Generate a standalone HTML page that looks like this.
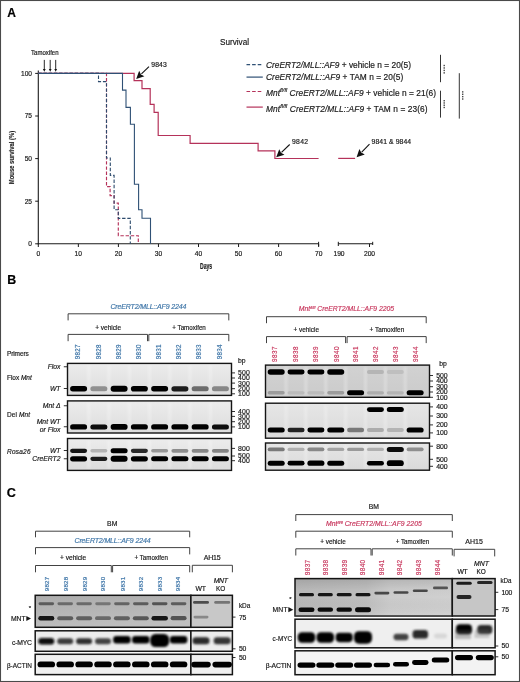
<!DOCTYPE html><html><head><meta charset="utf-8"><style>html,body{margin:0;padding:0;background:#fff;}svg{display:block;will-change:transform;}text{font-family:"Liberation Sans",sans-serif;font-variant-ligatures:none;}</style></head><body>
<svg width="520" height="682" viewBox="0 0 520 682">
<defs>
<filter id="b1" x="-30%" y="-100%" width="160%" height="300%"><feGaussianBlur stdDeviation="0.7"/></filter>
<filter id="b2" x="-30%" y="-100%" width="160%" height="300%"><feGaussianBlur stdDeviation="1.1"/></filter>
<filter id="b3" x="-30%" y="-100%" width="160%" height="300%"><feGaussianBlur stdDeviation="0.5"/></filter>
<linearGradient id="gelL" x1="0" y1="0" x2="0" y2="1"><stop offset="0" stop-color="#ececec"/><stop offset="1" stop-color="#dcdcdc"/></linearGradient>
<linearGradient id="gelR1" x1="0" y1="0" x2="0" y2="1"><stop offset="0" stop-color="#d2d2d2"/><stop offset="1" stop-color="#cbcbcb"/></linearGradient>
<linearGradient id="gelR" x1="0" y1="0" x2="0" y2="1"><stop offset="0" stop-color="#e6e6e6"/><stop offset="1" stop-color="#dadada"/></linearGradient>
<marker id="ah" viewBox="0 0 10 10" refX="9" refY="5" markerWidth="4" markerHeight="4" orient="auto"><path d="M0,0 L10,5 L0,10 z" fill="#111"/></marker>
</defs>
<rect x="0" y="0" width="520" height="682" fill="#fff"/>
<text x="7.2" y="17.3" font-size="12" fill="#000" stroke="#000" stroke-width="0.18" font-weight="bold">A</text>
<text x="220" y="45.3" font-size="8.2" fill="#1a1a1a" stroke="#1a1a1a" stroke-width="0.18" textLength="29" lengthAdjust="spacing">Survival</text>
<line x1="38.3" y1="70.5" x2="38.3" y2="244.3" stroke="#1a1a1a" stroke-width="1.1" />
<line x1="37.8" y1="243.8" x2="318.6" y2="243.8" stroke="#1a1a1a" stroke-width="1.1" />
<line x1="338.3" y1="243.8" x2="372.7" y2="243.8" stroke="#1a1a1a" stroke-width="1.1" />
<line x1="35.2" y1="243.8" x2="38.3" y2="243.8" stroke="#1a1a1a" stroke-width="1" />
<text x="32" y="246.1" font-size="6.6" fill="#1a1a1a" stroke="#1a1a1a" stroke-width="0.18" text-anchor="end">0</text>
<line x1="35.2" y1="201.20000000000002" x2="38.3" y2="201.20000000000002" stroke="#1a1a1a" stroke-width="1" />
<text x="32" y="203.5" font-size="6.6" fill="#1a1a1a" stroke="#1a1a1a" stroke-width="0.18" text-anchor="end">25</text>
<line x1="35.2" y1="158.60000000000002" x2="38.3" y2="158.60000000000002" stroke="#1a1a1a" stroke-width="1" />
<text x="32" y="160.9" font-size="6.6" fill="#1a1a1a" stroke="#1a1a1a" stroke-width="0.18" text-anchor="end">50</text>
<line x1="35.2" y1="116.00000000000001" x2="38.3" y2="116.00000000000001" stroke="#1a1a1a" stroke-width="1" />
<text x="32" y="118.3" font-size="6.6" fill="#1a1a1a" stroke="#1a1a1a" stroke-width="0.18" text-anchor="end">75</text>
<line x1="35.2" y1="73.4" x2="38.3" y2="73.4" stroke="#1a1a1a" stroke-width="1" />
<text x="32" y="75.7" font-size="6.6" fill="#1a1a1a" stroke="#1a1a1a" stroke-width="0.18" text-anchor="end">100</text>
<line x1="38.3" y1="243.8" x2="38.3" y2="247" stroke="#1a1a1a" stroke-width="1" />
<text x="38.3" y="256.3" font-size="6.7" fill="#1a1a1a" stroke="#1a1a1a" stroke-width="0.18" text-anchor="middle">0</text>
<line x1="78.35" y1="243.8" x2="78.35" y2="247" stroke="#1a1a1a" stroke-width="1" />
<text x="78.35" y="256.3" font-size="6.7" fill="#1a1a1a" stroke="#1a1a1a" stroke-width="0.18" text-anchor="middle">10</text>
<line x1="118.39999999999999" y1="243.8" x2="118.39999999999999" y2="247" stroke="#1a1a1a" stroke-width="1" />
<text x="118.4" y="256.3" font-size="6.7" fill="#1a1a1a" stroke="#1a1a1a" stroke-width="0.18" text-anchor="middle">20</text>
<line x1="158.45" y1="243.8" x2="158.45" y2="247" stroke="#1a1a1a" stroke-width="1" />
<text x="158.45" y="256.3" font-size="6.7" fill="#1a1a1a" stroke="#1a1a1a" stroke-width="0.18" text-anchor="middle">30</text>
<line x1="198.5" y1="243.8" x2="198.5" y2="247" stroke="#1a1a1a" stroke-width="1" />
<text x="198.5" y="256.3" font-size="6.7" fill="#1a1a1a" stroke="#1a1a1a" stroke-width="0.18" text-anchor="middle">40</text>
<line x1="238.55" y1="243.8" x2="238.55" y2="247" stroke="#1a1a1a" stroke-width="1" />
<text x="238.55" y="256.3" font-size="6.7" fill="#1a1a1a" stroke="#1a1a1a" stroke-width="0.18" text-anchor="middle">50</text>
<line x1="278.59999999999997" y1="243.8" x2="278.59999999999997" y2="247" stroke="#1a1a1a" stroke-width="1" />
<text x="278.6" y="256.3" font-size="6.7" fill="#1a1a1a" stroke="#1a1a1a" stroke-width="0.18" text-anchor="middle">60</text>
<line x1="318.65" y1="243.8" x2="318.65" y2="247" stroke="#1a1a1a" stroke-width="1" />
<text x="318.65" y="256.3" font-size="6.7" fill="#1a1a1a" stroke="#1a1a1a" stroke-width="0.18" text-anchor="middle">70</text>
<line x1="318.6" y1="241.8" x2="318.6" y2="246" stroke="#1a1a1a" stroke-width="1" />
<line x1="338.3" y1="241.8" x2="338.3" y2="246" stroke="#1a1a1a" stroke-width="1" />
<line x1="369.5" y1="243.8" x2="369.5" y2="247" stroke="#1a1a1a" stroke-width="1" />
<line x1="372.7" y1="241.8" x2="372.7" y2="245" stroke="#1a1a1a" stroke-width="1" />
<text x="339" y="256.3" font-size="6.7" fill="#1a1a1a" stroke="#1a1a1a" stroke-width="0.18" text-anchor="middle">190</text>
<text x="369.5" y="256.3" font-size="6.7" fill="#1a1a1a" stroke="#1a1a1a" stroke-width="0.18" text-anchor="middle">200</text>
<text x="200" y="268.5" font-size="8.4" fill="#1a1a1a" stroke="#1a1a1a" stroke-width="0.18" font-weight="bold" textLength="12.2" lengthAdjust="spacingAndGlyphs">Days</text>
<text transform="translate(14.2,157.5) rotate(-90)" x="0" y="0" text-anchor="middle" font-size="7.7" font-weight="bold" textLength="53.4" lengthAdjust="spacingAndGlyphs" fill="#1a1a1a" stroke="#1a1a1a" stroke-width="0.12">Mouse survival (%)</text>
<path d="M38.3,73.4 H134.1 V80.7 H142 V88.6 H150.2 V104.4 H154.1 V112.3 H158.2 V135.5 H190.1 V143.4 H258.1 V150.9 H274.9 V158.5 H318.6" fill="none" stroke="#b5325a" stroke-width="1.2"/>
<path d="M338.2,158.4 H355.1" fill="none" stroke="#b5325a" stroke-width="1.2"/>
<path d="M38.3,73.4 H106.5 V186.6 H110.1 V195.6 H114.1 V203.1 H118.3 V235.7 H138.3 V243.8" fill="none" stroke="#b5325a" stroke-width="1.15" stroke-dasharray="3.4 1.8"/>
<path d="M38.3,73.4 H98.5 V81.6 H106.5 V158 H110.3 V175.4 H114.1 V209.7 H118.3 V218.4 H130.3 V243.8" fill="none" stroke="#2c4a6c" stroke-width="1.1" stroke-dasharray="3.4 1.8"/>
<path d="M38.3,73.4 H122.5 V90.1 H126 V107.4 H130.4 V124.3 H134.4 V184.2 H138.6 V209.8 H142 V218.2 H150.5 V243.8" fill="none" stroke="#2f5075" stroke-width="1.1"/>
<text x="31.1" y="55.3" font-size="6.4" fill="#1a1a1a" stroke="#1a1a1a" stroke-width="0.18" textLength="27.4" lengthAdjust="spacingAndGlyphs">Tamoxifen</text>
<line x1="44.3" y1="59.9" x2="44.3" y2="69.5" stroke="#111" stroke-width="0.9" />
<path d="M42.9,69 L45.699999999999996,69 L44.3,71.7 z" fill="#111"/>
<line x1="50.2" y1="59.9" x2="50.2" y2="69.5" stroke="#111" stroke-width="0.9" />
<path d="M48.800000000000004,69 L51.6,69 L50.2,71.7 z" fill="#111"/>
<line x1="55.7" y1="59.9" x2="55.7" y2="69.5" stroke="#111" stroke-width="0.9" />
<path d="M54.300000000000004,69 L57.1,69 L55.7,71.7 z" fill="#111"/>
<line x1="149" y1="66.6" x2="141.44" y2="73.92" stroke="#111" stroke-width="1.1"/>
<path d="M136.20,79.00 L139.16,70.84 L140.94,74.41 L144.45,76.30 z" fill="#111"/>
<text x="151.3" y="66.9" font-size="6.8" fill="#1a1a1a" stroke="#1a1a1a" stroke-width="0.18" textLength="15.4" lengthAdjust="spacing">9843</text>
<line x1="289.7" y1="144.5" x2="281.50" y2="152.28" stroke="#111" stroke-width="1.1"/>
<path d="M276.20,157.30 L279.25,149.18 L280.99,152.76 L284.47,154.69 z" fill="#111"/>
<text x="292" y="143.8" font-size="6.8" fill="#1a1a1a" stroke="#1a1a1a" stroke-width="0.18" textLength="16.1" lengthAdjust="spacing">9842</text>
<line x1="369.5" y1="144.2" x2="361.72" y2="152.10" stroke="#111" stroke-width="1.1"/>
<path d="M356.60,157.30 L359.37,149.08 L361.23,152.60 L364.78,154.41 z" fill="#111"/>
<text x="371.5" y="144.1" font-size="6.8" fill="#1a1a1a" stroke="#1a1a1a" stroke-width="0.18" textLength="39.6" lengthAdjust="spacing">9841 &amp; 9844</text>
<path d="M246.5,64.65 H262.8" stroke="#2f5075" stroke-width="1.2" stroke-dasharray="3.6 2"/>
<path d="M246.5,77.1 H262.8" stroke="#2f5075" stroke-width="1.2"/>
<path d="M246.5,91.5 H262.8" stroke="#b5325a" stroke-width="1.2" stroke-dasharray="3.6 2"/>
<path d="M246.5,107.1 H262.8" stroke="#b5325a" stroke-width="1.2"/>
<text x="266" y="67.6" font-size="8.35" fill="#1a1a1a" stroke="#1a1a1a" stroke-width="0.18" textLength="145" lengthAdjust="spacing"><tspan font-style="italic">CreERT2/MLL::AF9</tspan> + vehicle n = 20(5)</text>
<text x="266" y="80.0" font-size="8.35" fill="#1a1a1a" stroke="#1a1a1a" stroke-width="0.18" textLength="137.3" lengthAdjust="spacing"><tspan font-style="italic">CreERT2/MLL::AF9</tspan> + TAM n = 20(5)</text>
<text x="266" y="95.8" font-size="8.35" fill="#1a1a1a" stroke="#1a1a1a" stroke-width="0.18" textLength="170" lengthAdjust="spacing"><tspan font-style="italic">Mnt</tspan><tspan font-size="5.4" dy="-3.5" font-style="italic">fl/fl</tspan><tspan dy="3.5" font-style="italic"> CreERT2/MLL::AF9</tspan> + vehicle n = 21(6)</text>
<text x="266" y="111.7" font-size="8.35" fill="#1a1a1a" stroke="#1a1a1a" stroke-width="0.18" textLength="161.5" lengthAdjust="spacing"><tspan font-style="italic">Mnt</tspan><tspan font-size="5.4" dy="-3.5" font-style="italic">fl/fl</tspan><tspan dy="3.5" font-style="italic"> CreERT2/MLL::AF9</tspan> + TAM n = 23(6)</text>
<line x1="440.5" y1="54.8" x2="440.5" y2="82.2" stroke="#2a2a2a" stroke-width="0.95" />
<rect x="443.50" y="64.82" width="1.4" height="1.4" fill="#444"/>
<rect x="443.50" y="67.27" width="1.4" height="1.4" fill="#444"/>
<rect x="443.50" y="69.72" width="1.4" height="1.4" fill="#444"/>
<rect x="443.50" y="72.17" width="1.4" height="1.4" fill="#444"/>
<line x1="440.5" y1="90.7" x2="440.5" y2="117.6" stroke="#2a2a2a" stroke-width="0.95" />
<rect x="443.50" y="100.02" width="1.4" height="1.4" fill="#444"/>
<rect x="443.50" y="102.27" width="1.4" height="1.4" fill="#444"/>
<rect x="443.50" y="104.52" width="1.4" height="1.4" fill="#444"/>
<rect x="443.50" y="106.77" width="1.4" height="1.4" fill="#444"/>
<line x1="459.3" y1="73.2" x2="459.3" y2="118.6" stroke="#2a2a2a" stroke-width="0.95" />
<rect x="462.00" y="91.19" width="1.4" height="1.4" fill="#444"/>
<rect x="462.00" y="93.56" width="1.4" height="1.4" fill="#444"/>
<rect x="462.00" y="95.94" width="1.4" height="1.4" fill="#444"/>
<rect x="462.00" y="98.31" width="1.4" height="1.4" fill="#444"/>
<text x="7.2" y="284.3" font-size="12.4" fill="#000" stroke="#000" stroke-width="0.18" font-weight="bold">B</text>
<text x="110.4" y="309.4" font-size="7.0" fill="#3f76a8" stroke="#3f76a8" stroke-width="0.18" font-style="italic" textLength="76.1" lengthAdjust="spacing">CreERT2/MLL::AF9 2244</text>
<path d="M68.1,320.4 V313.8 H228.8 V320.4" fill="none" stroke="#383838" stroke-width="0.95"/>
<text x="95.2" y="329.6" font-size="7.0" fill="#1a1a1a" stroke="#1a1a1a" stroke-width="0.18" textLength="26" lengthAdjust="spacingAndGlyphs">+ vehicle</text>
<text x="172.3" y="329.6" font-size="7.0" fill="#1a1a1a" stroke="#1a1a1a" stroke-width="0.18" textLength="33.5" lengthAdjust="spacingAndGlyphs">+ Tamoxifen</text>
<path d="M68.1,341.2 V334.4 H147.5 V341.2" fill="none" stroke="#383838" stroke-width="0.95"/>
<path d="M148.8,341.2 V334.4 H228.8 V341.2" fill="none" stroke="#383838" stroke-width="0.95"/>
<text transform="translate(78.1,351.9) rotate(-90)" x="0" y="2.27" text-anchor="middle" font-size="6.3" fill="#3f76a8" stroke="#3f76a8" stroke-width="0.18" textLength="14.6" lengthAdjust="spacing">9827</text>
<text transform="translate(98.26,351.9) rotate(-90)" x="0" y="2.27" text-anchor="middle" font-size="6.3" fill="#3f76a8" stroke="#3f76a8" stroke-width="0.18" textLength="14.6" lengthAdjust="spacing">9828</text>
<text transform="translate(118.42,351.9) rotate(-90)" x="0" y="2.27" text-anchor="middle" font-size="6.3" fill="#3f76a8" stroke="#3f76a8" stroke-width="0.18" textLength="14.6" lengthAdjust="spacing">9829</text>
<text transform="translate(138.58,351.9) rotate(-90)" x="0" y="2.27" text-anchor="middle" font-size="6.3" fill="#3f76a8" stroke="#3f76a8" stroke-width="0.18" textLength="14.6" lengthAdjust="spacing">9830</text>
<text transform="translate(158.74,351.9) rotate(-90)" x="0" y="2.27" text-anchor="middle" font-size="6.3" fill="#3f76a8" stroke="#3f76a8" stroke-width="0.18" textLength="14.6" lengthAdjust="spacing">9831</text>
<text transform="translate(178.9,351.9) rotate(-90)" x="0" y="2.27" text-anchor="middle" font-size="6.3" fill="#3f76a8" stroke="#3f76a8" stroke-width="0.18" textLength="14.6" lengthAdjust="spacing">9832</text>
<text transform="translate(199.06,351.9) rotate(-90)" x="0" y="2.27" text-anchor="middle" font-size="6.3" fill="#3f76a8" stroke="#3f76a8" stroke-width="0.18" textLength="14.6" lengthAdjust="spacing">9833</text>
<text transform="translate(219.22,351.9) rotate(-90)" x="0" y="2.27" text-anchor="middle" font-size="6.3" fill="#3f76a8" stroke="#3f76a8" stroke-width="0.18" textLength="14.6" lengthAdjust="spacing">9834</text>
<text x="7" y="356" font-size="6.5" fill="#1a1a1a" stroke="#1a1a1a" stroke-width="0.18" textLength="21.7" lengthAdjust="spacing">Primers</text>
<text x="7" y="379.8" font-size="6.5" fill="#1a1a1a" stroke="#1a1a1a" stroke-width="0.18" textLength="24.7" lengthAdjust="spacing">Flox <tspan font-style="italic">Mnt</tspan></text>
<text x="7" y="417.3" font-size="6.5" fill="#1a1a1a" stroke="#1a1a1a" stroke-width="0.18" textLength="23" lengthAdjust="spacing">Del <tspan font-style="italic">Mnt</tspan></text>
<text x="7" y="453.6" font-size="6.5" fill="#1a1a1a" stroke="#1a1a1a" stroke-width="0.18" font-style="italic" textLength="23.5" lengthAdjust="spacing">Rosa26</text>
<text x="60.5" y="369.15" font-size="6.8" fill="#1a1a1a" stroke="#1a1a1a" stroke-width="0.18" text-anchor="end" font-style="italic">Flox</text>
<text x="60.5" y="390.9" font-size="6.8" fill="#1a1a1a" stroke="#1a1a1a" stroke-width="0.18" text-anchor="end" font-style="italic">WT</text>
<text x="60.5" y="408.15" font-size="6.8" fill="#1a1a1a" stroke="#1a1a1a" stroke-width="0.18" text-anchor="end" font-style="italic">Mnt Δ</text>
<text x="60.5" y="452.9" font-size="6.8" fill="#1a1a1a" stroke="#1a1a1a" stroke-width="0.18" text-anchor="end" font-style="italic">WT</text>
<text x="60.5" y="461.15" font-size="6.8" fill="#1a1a1a" stroke="#1a1a1a" stroke-width="0.18" text-anchor="end" font-style="italic">CreERT2</text>
<text x="60.5" y="424.3" font-size="6.8" fill="#1a1a1a" stroke="#1a1a1a" stroke-width="0.18" text-anchor="end" font-style="italic">Mnt WT</text>
<text x="60.5" y="432.4" font-size="6.8" fill="#1a1a1a" stroke="#1a1a1a" stroke-width="0.18" text-anchor="end" font-style="italic">or Flox</text>
<line x1="63.8" y1="366.75" x2="67.5" y2="366.75" stroke="#1a1a1a" stroke-width="0.9" />
<line x1="63.8" y1="388.5" x2="67.5" y2="388.5" stroke="#1a1a1a" stroke-width="0.9" />
<line x1="63.8" y1="405.75" x2="67.5" y2="405.75" stroke="#1a1a1a" stroke-width="0.9" />
<line x1="63.8" y1="426.75" x2="67.5" y2="426.75" stroke="#1a1a1a" stroke-width="0.9" />
<line x1="63.8" y1="450.5" x2="67.5" y2="450.5" stroke="#1a1a1a" stroke-width="0.9" />
<line x1="63.8" y1="458.75" x2="67.5" y2="458.75" stroke="#1a1a1a" stroke-width="0.9" />
<rect x="67.5" y="363.4" width="164.0" height="32.0" fill="url(#gelL)"/>
<rect x="87.23" y="365.4" width="3" height="28.0" fill="#ffffff" opacity="0.25" filter="url(#b2)"/>
<rect x="107.49" y="365.4" width="3" height="28.0" fill="#ffffff" opacity="0.25" filter="url(#b2)"/>
<rect x="127.75" y="365.4" width="3" height="28.0" fill="#ffffff" opacity="0.25" filter="url(#b2)"/>
<rect x="148.01" y="365.4" width="3" height="28.0" fill="#ffffff" opacity="0.25" filter="url(#b2)"/>
<rect x="168.27" y="365.4" width="3" height="28.0" fill="#ffffff" opacity="0.25" filter="url(#b2)"/>
<rect x="188.53" y="365.4" width="3" height="28.0" fill="#ffffff" opacity="0.25" filter="url(#b2)"/>
<rect x="208.79" y="365.4" width="3" height="28.0" fill="#ffffff" opacity="0.25" filter="url(#b2)"/>
<rect x="70.10" y="386.10" width="17.00" height="5.40" rx="2.70" fill="#000000" filter="url(#b1)"/>
<rect x="90.36" y="386.30" width="17.00" height="5.00" rx="2.50" fill="#909090" filter="url(#b1)"/>
<rect x="110.62" y="385.80" width="17.00" height="6.00" rx="3.00" fill="#000000" filter="url(#b1)"/>
<rect x="130.88" y="386.00" width="17.00" height="5.60" rx="2.80" fill="#000000" filter="url(#b1)"/>
<rect x="151.14" y="386.10" width="17.00" height="5.40" rx="2.70" fill="#000000" filter="url(#b1)"/>
<rect x="171.40" y="386.20" width="17.00" height="5.20" rx="2.60" fill="#1b1b1b" filter="url(#b1)"/>
<rect x="191.66" y="386.30" width="17.00" height="5.00" rx="2.50" fill="#6c6c6c" filter="url(#b1)"/>
<rect x="211.92" y="386.30" width="17.00" height="5.00" rx="2.50" fill="#878787" filter="url(#b1)"/>
<rect x="67.5" y="363.4" width="164.0" height="32.0" fill="none" stroke="#151515" stroke-width="1.4"/>
<rect x="67.5" y="400.9" width="164.0" height="32.10000000000002" fill="url(#gelL)"/>
<rect x="87.23" y="402.9" width="3" height="28.100000000000023" fill="#ffffff" opacity="0.25" filter="url(#b2)"/>
<rect x="107.49" y="402.9" width="3" height="28.100000000000023" fill="#ffffff" opacity="0.25" filter="url(#b2)"/>
<rect x="127.75" y="402.9" width="3" height="28.100000000000023" fill="#ffffff" opacity="0.25" filter="url(#b2)"/>
<rect x="148.01" y="402.9" width="3" height="28.100000000000023" fill="#ffffff" opacity="0.25" filter="url(#b2)"/>
<rect x="168.27" y="402.9" width="3" height="28.100000000000023" fill="#ffffff" opacity="0.25" filter="url(#b2)"/>
<rect x="188.53" y="402.9" width="3" height="28.100000000000023" fill="#ffffff" opacity="0.25" filter="url(#b2)"/>
<rect x="208.79" y="402.9" width="3" height="28.100000000000023" fill="#ffffff" opacity="0.25" filter="url(#b2)"/>
<rect x="70.10" y="424.20" width="17.00" height="5.40" rx="2.70" fill="#000000" filter="url(#b1)"/>
<rect x="90.36" y="424.40" width="17.00" height="5.00" rx="2.50" fill="#070707" filter="url(#b1)"/>
<rect x="110.62" y="424.10" width="17.00" height="5.60" rx="2.80" fill="#000000" filter="url(#b1)"/>
<rect x="130.88" y="424.20" width="17.00" height="5.40" rx="2.70" fill="#000000" filter="url(#b1)"/>
<rect x="151.14" y="424.30" width="17.00" height="5.20" rx="2.60" fill="#000000" filter="url(#b1)"/>
<rect x="171.40" y="424.30" width="17.00" height="5.20" rx="2.60" fill="#000000" filter="url(#b1)"/>
<rect x="191.66" y="424.30" width="17.00" height="5.20" rx="2.60" fill="#000000" filter="url(#b1)"/>
<rect x="211.92" y="424.40" width="17.00" height="5.00" rx="2.50" fill="#0b0b0b" filter="url(#b1)"/>
<rect x="67.5" y="400.9" width="164.0" height="32.10000000000002" fill="none" stroke="#151515" stroke-width="1.4"/>
<rect x="67.5" y="438.5" width="164.0" height="31.899999999999977" fill="url(#gelL)"/>
<rect x="87.23" y="440.5" width="3" height="27.899999999999977" fill="#ffffff" opacity="0.25" filter="url(#b2)"/>
<rect x="107.49" y="440.5" width="3" height="27.899999999999977" fill="#ffffff" opacity="0.25" filter="url(#b2)"/>
<rect x="127.75" y="440.5" width="3" height="27.899999999999977" fill="#ffffff" opacity="0.25" filter="url(#b2)"/>
<rect x="148.01" y="440.5" width="3" height="27.899999999999977" fill="#ffffff" opacity="0.25" filter="url(#b2)"/>
<rect x="168.27" y="440.5" width="3" height="27.899999999999977" fill="#ffffff" opacity="0.25" filter="url(#b2)"/>
<rect x="188.53" y="440.5" width="3" height="27.899999999999977" fill="#ffffff" opacity="0.25" filter="url(#b2)"/>
<rect x="208.79" y="440.5" width="3" height="27.899999999999977" fill="#ffffff" opacity="0.25" filter="url(#b2)"/>
<rect x="70.10" y="448.70" width="17.00" height="4.20" rx="2.10" fill="#161616" filter="url(#b1)"/>
<rect x="90.36" y="449.00" width="17.00" height="3.60" rx="1.80" fill="#b4b4b4" filter="url(#b1)"/>
<rect x="110.62" y="448.30" width="17.00" height="5.00" rx="2.50" fill="#000000" filter="url(#b1)"/>
<rect x="130.88" y="448.70" width="17.00" height="4.20" rx="2.10" fill="#292929" filter="url(#b1)"/>
<rect x="151.14" y="449.00" width="17.00" height="3.60" rx="1.80" fill="#979797" filter="url(#b1)"/>
<rect x="171.40" y="448.90" width="17.00" height="3.80" rx="1.90" fill="#8c8c8c" filter="url(#b1)"/>
<rect x="191.66" y="448.90" width="17.00" height="3.80" rx="1.90" fill="#878787" filter="url(#b1)"/>
<rect x="211.92" y="448.90" width="17.00" height="3.80" rx="1.90" fill="#838383" filter="url(#b1)"/>
<rect x="70.10" y="456.20" width="17.00" height="5.20" rx="2.60" fill="#000000" filter="url(#b1)"/>
<rect x="90.36" y="456.70" width="17.00" height="4.20" rx="2.10" fill="#1b1b1b" filter="url(#b1)"/>
<rect x="110.62" y="455.80" width="17.00" height="6.00" rx="3.00" fill="#000000" filter="url(#b1)"/>
<rect x="130.88" y="456.20" width="17.00" height="5.20" rx="2.60" fill="#000000" filter="url(#b1)"/>
<rect x="151.14" y="456.30" width="17.00" height="5.00" rx="2.50" fill="#000000" filter="url(#b1)"/>
<rect x="171.40" y="456.30" width="17.00" height="5.00" rx="2.50" fill="#000000" filter="url(#b1)"/>
<rect x="191.66" y="456.30" width="17.00" height="5.00" rx="2.50" fill="#000000" filter="url(#b1)"/>
<rect x="211.92" y="456.30" width="17.00" height="5.00" rx="2.50" fill="#000000" filter="url(#b1)"/>
<rect x="67.5" y="438.5" width="164.0" height="31.899999999999977" fill="none" stroke="#151515" stroke-width="1.4"/>
<text x="238.1" y="363.4" font-size="6.8" fill="#1a1a1a" stroke="#1a1a1a" stroke-width="0.18">bp</text>
<line x1="231.5" y1="372.9" x2="235" y2="372.9" stroke="#1a1a1a" stroke-width="0.9" />
<text x="237.9" y="375.3" font-size="6.9" fill="#1a1a1a" stroke="#1a1a1a" stroke-width="0.18" textLength="11.9" lengthAdjust="spacing">500</text>
<line x1="231.5" y1="378" x2="235" y2="378" stroke="#1a1a1a" stroke-width="0.9" />
<text x="237.9" y="380.4" font-size="6.9" fill="#1a1a1a" stroke="#1a1a1a" stroke-width="0.18" textLength="11.9" lengthAdjust="spacing">400</text>
<line x1="231.5" y1="383.1" x2="235" y2="383.1" stroke="#1a1a1a" stroke-width="0.9" />
<text x="237.9" y="385.5" font-size="6.9" fill="#1a1a1a" stroke="#1a1a1a" stroke-width="0.18" textLength="11.9" lengthAdjust="spacing">300</text>
<line x1="231.5" y1="388.7" x2="235" y2="388.7" stroke="#1a1a1a" stroke-width="0.9" />
<text x="237.9" y="391.1" font-size="6.9" fill="#1a1a1a" stroke="#1a1a1a" stroke-width="0.18" textLength="11.9" lengthAdjust="spacing">200</text>
<line x1="231.5" y1="393.8" x2="235" y2="393.8" stroke="#1a1a1a" stroke-width="0.9" />
<text x="237.9" y="396.2" font-size="6.9" fill="#1a1a1a" stroke="#1a1a1a" stroke-width="0.18" textLength="11.9" lengthAdjust="spacing">100</text>
<line x1="231.5" y1="411.5" x2="235" y2="411.5" stroke="#1a1a1a" stroke-width="0.9" />
<text x="237.9" y="413.9" font-size="6.9" fill="#1a1a1a" stroke="#1a1a1a" stroke-width="0.18" textLength="11.9" lengthAdjust="spacing">400</text>
<line x1="231.5" y1="416.4" x2="235" y2="416.4" stroke="#1a1a1a" stroke-width="0.9" />
<text x="237.9" y="418.8" font-size="6.9" fill="#1a1a1a" stroke="#1a1a1a" stroke-width="0.18" textLength="11.9" lengthAdjust="spacing">300</text>
<line x1="231.5" y1="421.7" x2="235" y2="421.7" stroke="#1a1a1a" stroke-width="0.9" />
<text x="237.9" y="424.1" font-size="6.9" fill="#1a1a1a" stroke="#1a1a1a" stroke-width="0.18" textLength="11.9" lengthAdjust="spacing">200</text>
<line x1="231.5" y1="426.9" x2="235" y2="426.9" stroke="#1a1a1a" stroke-width="0.9" />
<text x="237.9" y="429.3" font-size="6.9" fill="#1a1a1a" stroke="#1a1a1a" stroke-width="0.18" textLength="11.9" lengthAdjust="spacing">100</text>
<line x1="231.5" y1="448.4" x2="235" y2="448.4" stroke="#1a1a1a" stroke-width="0.9" />
<text x="237.9" y="450.8" font-size="6.9" fill="#1a1a1a" stroke="#1a1a1a" stroke-width="0.18" textLength="11.9" lengthAdjust="spacing">800</text>
<line x1="231.5" y1="456" x2="235" y2="456" stroke="#1a1a1a" stroke-width="0.9" />
<text x="237.9" y="458.4" font-size="6.9" fill="#1a1a1a" stroke="#1a1a1a" stroke-width="0.18" textLength="11.9" lengthAdjust="spacing">500</text>
<line x1="231.5" y1="460.7" x2="235" y2="460.7" stroke="#1a1a1a" stroke-width="0.9" />
<text x="237.9" y="463.1" font-size="6.9" fill="#1a1a1a" stroke="#1a1a1a" stroke-width="0.18" textLength="11.9" lengthAdjust="spacing">400</text>
<text x="298.8" y="311.3" font-size="7.0" fill="#c8385e" stroke="#c8385e" stroke-width="0.18" textLength="95.4" lengthAdjust="spacingAndGlyphs"><tspan font-style="italic">Mnt</tspan><tspan font-size="4.2" dy="-2.8" font-style="italic">fl/fl</tspan><tspan dy="2.8" font-style="italic"> CreERT2/MLL::AF9 2205</tspan></text>
<path d="M266.5,323.2 V316.7 H426.2 V323.2" fill="none" stroke="#383838" stroke-width="0.95"/>
<text x="293.5" y="331.8" font-size="7.0" fill="#1a1a1a" stroke="#1a1a1a" stroke-width="0.18" textLength="25.5" lengthAdjust="spacingAndGlyphs">+ vehicle</text>
<text x="369.6" y="331.6" font-size="7.0" fill="#1a1a1a" stroke="#1a1a1a" stroke-width="0.18" textLength="34.6" lengthAdjust="spacingAndGlyphs">+ Tamoxifen</text>
<path d="M266.5,343.1 V336.6 H345.6 V343.1" fill="none" stroke="#383838" stroke-width="0.95"/>
<path d="M347.1,343.1 V336.6 H426.2 V343.1" fill="none" stroke="#383838" stroke-width="0.95"/>
<text transform="translate(274.5,354.2) rotate(-90)" x="0" y="2.30" text-anchor="middle" font-size="6.4" fill="#c8385e" stroke="#c8385e" stroke-width="0.18" textLength="15.4" lengthAdjust="spacing">9837</text>
<text transform="translate(295.4,354.2) rotate(-90)" x="0" y="2.30" text-anchor="middle" font-size="6.4" fill="#c8385e" stroke="#c8385e" stroke-width="0.18" textLength="15.4" lengthAdjust="spacing">9838</text>
<text transform="translate(316,354.2) rotate(-90)" x="0" y="2.30" text-anchor="middle" font-size="6.4" fill="#c8385e" stroke="#c8385e" stroke-width="0.18" textLength="15.4" lengthAdjust="spacing">9839</text>
<text transform="translate(336.2,354.2) rotate(-90)" x="0" y="2.30" text-anchor="middle" font-size="6.4" fill="#c8385e" stroke="#c8385e" stroke-width="0.18" textLength="15.4" lengthAdjust="spacing">9840</text>
<text transform="translate(356,354.2) rotate(-90)" x="0" y="2.30" text-anchor="middle" font-size="6.4" fill="#c8385e" stroke="#c8385e" stroke-width="0.18" textLength="15.4" lengthAdjust="spacing">9841</text>
<text transform="translate(375.5,354.2) rotate(-90)" x="0" y="2.30" text-anchor="middle" font-size="6.4" fill="#c8385e" stroke="#c8385e" stroke-width="0.18" textLength="15.4" lengthAdjust="spacing">9842</text>
<text transform="translate(395.5,354.2) rotate(-90)" x="0" y="2.30" text-anchor="middle" font-size="6.4" fill="#c8385e" stroke="#c8385e" stroke-width="0.18" textLength="15.4" lengthAdjust="spacing">9843</text>
<text transform="translate(416,354.2) rotate(-90)" x="0" y="2.30" text-anchor="middle" font-size="6.4" fill="#c8385e" stroke="#c8385e" stroke-width="0.18" textLength="15.4" lengthAdjust="spacing">9844</text>
<rect x="265.5" y="365.1" width="164.0" height="32.19999999999999" fill="url(#gelR1)"/>
<rect x="284.62" y="367.1" width="3" height="28.19999999999999" fill="#ffffff" opacity="0.25" filter="url(#b2)"/>
<rect x="304.48" y="367.1" width="3" height="28.19999999999999" fill="#ffffff" opacity="0.25" filter="url(#b2)"/>
<rect x="324.32" y="367.1" width="3" height="28.19999999999999" fill="#ffffff" opacity="0.25" filter="url(#b2)"/>
<rect x="344.18" y="367.1" width="3" height="28.19999999999999" fill="#ffffff" opacity="0.25" filter="url(#b2)"/>
<rect x="364.02" y="367.1" width="3" height="28.19999999999999" fill="#ffffff" opacity="0.25" filter="url(#b2)"/>
<rect x="383.88" y="367.1" width="3" height="28.19999999999999" fill="#ffffff" opacity="0.25" filter="url(#b2)"/>
<rect x="403.73" y="367.1" width="3" height="28.19999999999999" fill="#ffffff" opacity="0.25" filter="url(#b2)"/>
<rect x="267.70" y="369.30" width="17.00" height="5.40" rx="2.70" fill="#000000" filter="url(#b1)"/>
<rect x="287.55" y="369.60" width="17.00" height="4.80" rx="2.40" fill="#000000" filter="url(#b1)"/>
<rect x="307.40" y="369.60" width="17.00" height="4.80" rx="2.40" fill="#000000" filter="url(#b1)"/>
<rect x="327.25" y="369.30" width="17.00" height="5.40" rx="2.70" fill="#000000" filter="url(#b1)"/>
<rect x="366.95" y="370.10" width="17.00" height="3.80" rx="1.90" fill="#b5b5b5" filter="url(#b1)"/>
<rect x="386.80" y="370.10" width="17.00" height="3.80" rx="1.90" fill="#bfbfbf" filter="url(#b1)"/>
<rect x="267.70" y="391.10" width="17.00" height="3.40" rx="1.70" fill="#9c9c9c" filter="url(#b1)"/>
<rect x="287.55" y="391.20" width="17.00" height="3.20" rx="1.60" fill="#bbbbbb" filter="url(#b1)"/>
<rect x="307.40" y="391.20" width="17.00" height="3.20" rx="1.60" fill="#bbbbbb" filter="url(#b1)"/>
<rect x="327.25" y="391.10" width="17.00" height="3.40" rx="1.70" fill="#9c9c9c" filter="url(#b1)"/>
<rect x="347.10" y="390.30" width="17.00" height="5.00" rx="2.50" fill="#000000" filter="url(#b1)"/>
<rect x="366.95" y="391.20" width="17.00" height="3.20" rx="1.60" fill="#aeaeae" filter="url(#b1)"/>
<rect x="386.80" y="391.20" width="17.00" height="3.20" rx="1.60" fill="#b4b4b4" filter="url(#b1)"/>
<rect x="406.65" y="390.30" width="17.00" height="5.00" rx="2.50" fill="#000000" filter="url(#b1)"/>
<rect x="265.5" y="365.1" width="164.0" height="32.19999999999999" fill="none" stroke="#151515" stroke-width="1.4"/>
<rect x="265.5" y="403.2" width="164.0" height="35.0" fill="url(#gelR)"/>
<rect x="284.62" y="405.2" width="3" height="31.0" fill="#ffffff" opacity="0.25" filter="url(#b2)"/>
<rect x="304.48" y="405.2" width="3" height="31.0" fill="#ffffff" opacity="0.25" filter="url(#b2)"/>
<rect x="324.32" y="405.2" width="3" height="31.0" fill="#ffffff" opacity="0.25" filter="url(#b2)"/>
<rect x="344.18" y="405.2" width="3" height="31.0" fill="#ffffff" opacity="0.25" filter="url(#b2)"/>
<rect x="364.02" y="405.2" width="3" height="31.0" fill="#ffffff" opacity="0.25" filter="url(#b2)"/>
<rect x="383.88" y="405.2" width="3" height="31.0" fill="#ffffff" opacity="0.25" filter="url(#b2)"/>
<rect x="403.73" y="405.2" width="3" height="31.0" fill="#ffffff" opacity="0.25" filter="url(#b2)"/>
<rect x="366.95" y="407.30" width="17.00" height="4.60" rx="2.30" fill="#000000" filter="url(#b1)"/>
<rect x="386.80" y="407.10" width="17.00" height="5.00" rx="2.50" fill="#000000" filter="url(#b1)"/>
<rect x="267.70" y="427.50" width="17.00" height="5.00" rx="2.50" fill="#000000" filter="url(#b1)"/>
<rect x="287.55" y="427.70" width="17.00" height="4.60" rx="2.30" fill="#212121" filter="url(#b1)"/>
<rect x="307.40" y="427.60" width="17.00" height="4.80" rx="2.40" fill="#000000" filter="url(#b1)"/>
<rect x="327.25" y="427.50" width="17.00" height="5.00" rx="2.50" fill="#000000" filter="url(#b1)"/>
<rect x="347.10" y="427.80" width="17.00" height="4.40" rx="2.20" fill="#797979" filter="url(#b1)"/>
<rect x="366.95" y="428.10" width="17.00" height="3.80" rx="1.90" fill="#acacac" filter="url(#b1)"/>
<rect x="386.80" y="428.10" width="17.00" height="3.80" rx="1.90" fill="#b4b4b4" filter="url(#b1)"/>
<rect x="406.65" y="427.40" width="17.00" height="5.20" rx="2.60" fill="#000000" filter="url(#b1)"/>
<rect x="265.5" y="403.2" width="164.0" height="35.0" fill="none" stroke="#151515" stroke-width="1.4"/>
<rect x="265.5" y="443.0" width="164.0" height="27.19999999999999" fill="url(#gelR)"/>
<rect x="284.62" y="445.0" width="3" height="23.19999999999999" fill="#ffffff" opacity="0.25" filter="url(#b2)"/>
<rect x="304.48" y="445.0" width="3" height="23.19999999999999" fill="#ffffff" opacity="0.25" filter="url(#b2)"/>
<rect x="324.32" y="445.0" width="3" height="23.19999999999999" fill="#ffffff" opacity="0.25" filter="url(#b2)"/>
<rect x="344.18" y="445.0" width="3" height="23.19999999999999" fill="#ffffff" opacity="0.25" filter="url(#b2)"/>
<rect x="364.02" y="445.0" width="3" height="23.19999999999999" fill="#ffffff" opacity="0.25" filter="url(#b2)"/>
<rect x="383.88" y="445.0" width="3" height="23.19999999999999" fill="#ffffff" opacity="0.25" filter="url(#b2)"/>
<rect x="403.73" y="445.0" width="3" height="23.19999999999999" fill="#ffffff" opacity="0.25" filter="url(#b2)"/>
<rect x="267.70" y="447.50" width="17.00" height="3.80" rx="1.90" fill="#797979" filter="url(#b1)"/>
<rect x="287.55" y="447.70" width="17.00" height="3.40" rx="1.70" fill="#b0b0b0" filter="url(#b1)"/>
<rect x="307.40" y="447.60" width="17.00" height="3.60" rx="1.80" fill="#888888" filter="url(#b1)"/>
<rect x="327.25" y="447.70" width="17.00" height="3.40" rx="1.70" fill="#a5a5a5" filter="url(#b1)"/>
<rect x="347.10" y="447.70" width="17.00" height="3.40" rx="1.70" fill="#9a9a9a" filter="url(#b1)"/>
<rect x="366.95" y="447.70" width="17.00" height="3.40" rx="1.70" fill="#b0b0b0" filter="url(#b1)"/>
<rect x="386.80" y="446.90" width="17.00" height="5.00" rx="2.50" fill="#0b0b0b" filter="url(#b1)"/>
<rect x="406.65" y="447.60" width="17.00" height="3.60" rx="1.80" fill="#8f8f8f" filter="url(#b1)"/>
<rect x="267.70" y="460.70" width="17.00" height="5.00" rx="2.50" fill="#000000" filter="url(#b1)"/>
<rect x="287.55" y="460.80" width="17.00" height="4.80" rx="2.40" fill="#000000" filter="url(#b1)"/>
<rect x="307.40" y="460.60" width="17.00" height="5.20" rx="2.60" fill="#000000" filter="url(#b1)"/>
<rect x="327.25" y="460.70" width="17.00" height="5.00" rx="2.50" fill="#000000" filter="url(#b1)"/>
<rect x="366.95" y="461.00" width="17.00" height="4.40" rx="2.20" fill="#000000" filter="url(#b1)"/>
<rect x="386.80" y="460.30" width="17.00" height="5.80" rx="2.90" fill="#000000" filter="url(#b1)"/>
<rect x="265.5" y="443.0" width="164.0" height="27.19999999999999" fill="none" stroke="#151515" stroke-width="1.4"/>
<text x="439.3" y="366.2" font-size="6.8" fill="#1a1a1a" stroke="#1a1a1a" stroke-width="0.18">bp</text>
<line x1="429.5" y1="375.5" x2="433" y2="375.5" stroke="#1a1a1a" stroke-width="0.9" />
<text x="436.3" y="377.9" font-size="6.9" fill="#1a1a1a" stroke="#1a1a1a" stroke-width="0.18" textLength="11.2" lengthAdjust="spacing">500</text>
<line x1="429.5" y1="381" x2="433" y2="381" stroke="#1a1a1a" stroke-width="0.9" />
<text x="436.3" y="383.4" font-size="6.9" fill="#1a1a1a" stroke="#1a1a1a" stroke-width="0.18" textLength="11.2" lengthAdjust="spacing">400</text>
<line x1="429.5" y1="386.7" x2="433" y2="386.7" stroke="#1a1a1a" stroke-width="0.9" />
<text x="436.3" y="389.1" font-size="6.9" fill="#1a1a1a" stroke="#1a1a1a" stroke-width="0.18" textLength="11.2" lengthAdjust="spacing">300</text>
<line x1="429.5" y1="392" x2="433" y2="392" stroke="#1a1a1a" stroke-width="0.9" />
<text x="436.3" y="394.4" font-size="6.9" fill="#1a1a1a" stroke="#1a1a1a" stroke-width="0.18" textLength="11.2" lengthAdjust="spacing">200</text>
<line x1="429.5" y1="397.3" x2="433" y2="397.3" stroke="#1a1a1a" stroke-width="0.9" />
<text x="436.3" y="399.7" font-size="6.9" fill="#1a1a1a" stroke="#1a1a1a" stroke-width="0.18" textLength="11.2" lengthAdjust="spacing">100</text>
<line x1="429.5" y1="406.9" x2="433" y2="406.9" stroke="#1a1a1a" stroke-width="0.9" />
<text x="436.3" y="409.3" font-size="6.9" fill="#1a1a1a" stroke="#1a1a1a" stroke-width="0.18" textLength="11.2" lengthAdjust="spacing">400</text>
<line x1="429.5" y1="416" x2="433" y2="416" stroke="#1a1a1a" stroke-width="0.9" />
<text x="436.3" y="418.4" font-size="6.9" fill="#1a1a1a" stroke="#1a1a1a" stroke-width="0.18" textLength="11.2" lengthAdjust="spacing">300</text>
<line x1="429.5" y1="424.9" x2="433" y2="424.9" stroke="#1a1a1a" stroke-width="0.9" />
<text x="436.3" y="427.3" font-size="6.9" fill="#1a1a1a" stroke="#1a1a1a" stroke-width="0.18" textLength="11.2" lengthAdjust="spacing">200</text>
<line x1="429.5" y1="432.9" x2="433" y2="432.9" stroke="#1a1a1a" stroke-width="0.9" />
<text x="436.3" y="435.3" font-size="6.9" fill="#1a1a1a" stroke="#1a1a1a" stroke-width="0.18" textLength="11.2" lengthAdjust="spacing">100</text>
<line x1="429.5" y1="446.2" x2="433" y2="446.2" stroke="#1a1a1a" stroke-width="0.9" />
<text x="436.3" y="448.6" font-size="6.9" fill="#1a1a1a" stroke="#1a1a1a" stroke-width="0.18" textLength="11.2" lengthAdjust="spacing">800</text>
<line x1="429.5" y1="459.3" x2="433" y2="459.3" stroke="#1a1a1a" stroke-width="0.9" />
<text x="436.3" y="461.7" font-size="6.9" fill="#1a1a1a" stroke="#1a1a1a" stroke-width="0.18" textLength="11.2" lengthAdjust="spacing">500</text>
<line x1="429.5" y1="466.3" x2="433" y2="466.3" stroke="#1a1a1a" stroke-width="0.9" />
<text x="436.3" y="468.7" font-size="6.9" fill="#1a1a1a" stroke="#1a1a1a" stroke-width="0.18" textLength="11.2" lengthAdjust="spacing">400</text>
<text x="6.7" y="497.2" font-size="12.6" fill="#000" stroke="#000" stroke-width="0.18" font-weight="bold">C</text>
<text x="107" y="525.6" font-size="6.8" fill="#1a1a1a" stroke="#1a1a1a" stroke-width="0.18" textLength="10.5" lengthAdjust="spacing">BM</text>
<path d="M35.5,537.3 V531.2 H189.7 V537.3" fill="none" stroke="#383838" stroke-width="0.95"/>
<text x="74.5" y="542.5" font-size="7.0" fill="#3f76a8" stroke="#3f76a8" stroke-width="0.18" font-style="italic" textLength="76.1" lengthAdjust="spacing">CreERT2/MLL::AF9 2244</text>
<path d="M35.5,554.4 V547.6 H189.7 V554.4" fill="none" stroke="#383838" stroke-width="0.95"/>
<text x="60" y="560.3" font-size="7.0" fill="#1a1a1a" stroke="#1a1a1a" stroke-width="0.18" textLength="26.2" lengthAdjust="spacingAndGlyphs">+ vehicle</text>
<text x="134.5" y="560.3" font-size="7.0" fill="#1a1a1a" stroke="#1a1a1a" stroke-width="0.18" textLength="33.4" lengthAdjust="spacingAndGlyphs">+ Tamoxifen</text>
<path d="M35.5,572.3 V565.5 H111.3 V572.3" fill="none" stroke="#383838" stroke-width="0.95"/>
<path d="M112.6,572.3 V565.5 H189.7 V572.3" fill="none" stroke="#383838" stroke-width="0.95"/>
<path d="M192.3,572.3 V565.3 H232.4 V572.3" fill="none" stroke="#383838" stroke-width="0.95"/>
<text x="203.7" y="560.3" font-size="7.0" fill="#1a1a1a" stroke="#1a1a1a" stroke-width="0.18" textLength="16.9" lengthAdjust="spacing">AH15</text>
<text transform="translate(46.8,584.0) rotate(-90)" x="0" y="2.23" text-anchor="middle" font-size="6.2" fill="#3f76a8" stroke="#3f76a8" stroke-width="0.18" textLength="14.4" lengthAdjust="spacing">9827</text>
<text transform="translate(65.8,584.0) rotate(-90)" x="0" y="2.23" text-anchor="middle" font-size="6.2" fill="#3f76a8" stroke="#3f76a8" stroke-width="0.18" textLength="14.4" lengthAdjust="spacing">9828</text>
<text transform="translate(84.5,584.0) rotate(-90)" x="0" y="2.23" text-anchor="middle" font-size="6.2" fill="#3f76a8" stroke="#3f76a8" stroke-width="0.18" textLength="14.4" lengthAdjust="spacing">9829</text>
<text transform="translate(103,584.0) rotate(-90)" x="0" y="2.23" text-anchor="middle" font-size="6.2" fill="#3f76a8" stroke="#3f76a8" stroke-width="0.18" textLength="14.4" lengthAdjust="spacing">9830</text>
<text transform="translate(122.3,584.0) rotate(-90)" x="0" y="2.23" text-anchor="middle" font-size="6.2" fill="#3f76a8" stroke="#3f76a8" stroke-width="0.18" textLength="14.4" lengthAdjust="spacing">9831</text>
<text transform="translate(141.2,584.0) rotate(-90)" x="0" y="2.23" text-anchor="middle" font-size="6.2" fill="#3f76a8" stroke="#3f76a8" stroke-width="0.18" textLength="14.4" lengthAdjust="spacing">9832</text>
<text transform="translate(160,584.0) rotate(-90)" x="0" y="2.23" text-anchor="middle" font-size="6.2" fill="#3f76a8" stroke="#3f76a8" stroke-width="0.18" textLength="14.4" lengthAdjust="spacing">9833</text>
<text transform="translate(178.2,584.0) rotate(-90)" x="0" y="2.23" text-anchor="middle" font-size="6.2" fill="#3f76a8" stroke="#3f76a8" stroke-width="0.18" textLength="14.4" lengthAdjust="spacing">9834</text>
<text x="213.7" y="583" font-size="6.8" fill="#1a1a1a" stroke="#1a1a1a" stroke-width="0.18" font-style="italic" textLength="14.1" lengthAdjust="spacing">MNT</text>
<text x="195.5" y="590.9" font-size="6.8" fill="#1a1a1a" stroke="#1a1a1a" stroke-width="0.18" textLength="10.5" lengthAdjust="spacing">WT</text>
<text x="216" y="590.9" font-size="6.8" fill="#1a1a1a" stroke="#1a1a1a" stroke-width="0.18" textLength="9.3" lengthAdjust="spacingAndGlyphs">KO</text>
<text x="30" y="610" font-size="6" fill="#1a1a1a" stroke="#1a1a1a" stroke-width="0.18" text-anchor="middle">*</text>
<text x="11" y="621" font-size="6.8" fill="#1a1a1a" stroke="#1a1a1a" stroke-width="0.18" textLength="14.6" lengthAdjust="spacing">MNT</text>
<path d="M26.3,615.9 L31,618.5 L26.3,621.1 z" fill="#1a1a1a"/>
<text x="12" y="645" font-size="6.8" fill="#1a1a1a" stroke="#1a1a1a" stroke-width="0.18" textLength="20" lengthAdjust="spacing">c-MYC</text>
<text x="6.9" y="668.4" font-size="6.8" fill="#1a1a1a" stroke="#1a1a1a" stroke-width="0.18" textLength="25.1" lengthAdjust="spacingAndGlyphs">β-ACTIN</text>
<text x="238.9" y="607.7" font-size="6.8" fill="#1a1a1a" stroke="#1a1a1a" stroke-width="0.18" textLength="11.4" lengthAdjust="spacingAndGlyphs">kDa</text>
<line x1="232.4" y1="617.1" x2="235.5" y2="617.1" stroke="#1a1a1a" stroke-width="0.9" />
<text x="238.9" y="619.5" font-size="6.8" fill="#1a1a1a" stroke="#1a1a1a" stroke-width="0.18" textLength="7.5" lengthAdjust="spacing">75</text>
<line x1="232.4" y1="648.8" x2="235.5" y2="648.8" stroke="#1a1a1a" stroke-width="0.9" />
<text x="238.9" y="651.2" font-size="6.8" fill="#1a1a1a" stroke="#1a1a1a" stroke-width="0.18" textLength="7.5" lengthAdjust="spacing">50</text>
<line x1="232.4" y1="657.5" x2="235.5" y2="657.5" stroke="#1a1a1a" stroke-width="0.9" />
<text x="238.9" y="659.9" font-size="6.8" fill="#1a1a1a" stroke="#1a1a1a" stroke-width="0.18" textLength="7.5" lengthAdjust="spacing">50</text>
<linearGradient id="bgC1" x1="0" y1="0" x2="0.3" y2="1"><stop offset="0" stop-color="#acacac"/><stop offset="1" stop-color="#bebebe"/></linearGradient>
<rect x="35.2" y="595.3" width="155.7" height="32.0" fill="url(#bgC1)"/>
<rect x="38.55" y="602.35" width="15.50" height="2.90" rx="1.45" fill="#5c5c5c" filter="url(#b1)"/>
<rect x="57.45" y="602.35" width="15.50" height="2.90" rx="1.45" fill="#6b6b6b" filter="url(#b1)"/>
<rect x="76.35" y="602.35" width="15.50" height="2.90" rx="1.45" fill="#6b6b6b" filter="url(#b1)"/>
<rect x="95.25" y="602.35" width="15.50" height="2.90" rx="1.45" fill="#757575" filter="url(#b1)"/>
<rect x="114.15" y="602.35" width="15.50" height="2.90" rx="1.45" fill="#646464" filter="url(#b1)"/>
<rect x="133.05" y="602.35" width="15.50" height="2.90" rx="1.45" fill="#5c5c5c" filter="url(#b1)"/>
<rect x="151.95" y="602.35" width="15.50" height="2.90" rx="1.45" fill="#535353" filter="url(#b1)"/>
<rect x="170.85" y="602.35" width="15.50" height="2.90" rx="1.45" fill="#5c5c5c" filter="url(#b1)"/>
<rect x="38.30" y="616.00" width="16.00" height="4.40" rx="2.20" fill="#121212" filter="url(#b1)"/>
<rect x="57.20" y="616.20" width="16.00" height="4.00" rx="2.00" fill="#5c5c5c" filter="url(#b1)"/>
<rect x="76.10" y="616.20" width="16.00" height="4.00" rx="2.00" fill="#606060" filter="url(#b1)"/>
<rect x="95.00" y="616.30" width="16.00" height="3.80" rx="1.90" fill="#6b6b6b" filter="url(#b1)"/>
<rect x="113.90" y="616.20" width="16.00" height="4.00" rx="2.00" fill="#606060" filter="url(#b1)"/>
<rect x="132.80" y="616.20" width="16.00" height="4.00" rx="2.00" fill="#595959" filter="url(#b1)"/>
<rect x="151.45" y="615.90" width="16.50" height="4.60" rx="2.30" fill="#161616" filter="url(#b1)"/>
<rect x="170.60" y="616.10" width="16.00" height="4.20" rx="2.10" fill="#535353" filter="url(#b1)"/>
<rect x="35.2" y="595.3" width="155.7" height="32.0" fill="none" stroke="#151515" stroke-width="1.5"/>
<rect x="35.2" y="630.8" width="155.7" height="20.5" fill="#ededed"/>
<rect x="38.30" y="637.95" width="16.00" height="6.50" rx="3.20" fill="#0c0c0c" filter="url(#b2)"/>
<rect x="57.20" y="638.20" width="16.00" height="6.00" rx="3.00" fill="#3b3b3b" filter="url(#b2)"/>
<rect x="76.10" y="638.20" width="16.00" height="6.00" rx="3.00" fill="#2f2f2f" filter="url(#b2)"/>
<rect x="95.00" y="638.20" width="16.00" height="6.00" rx="3.00" fill="#424242" filter="url(#b2)"/>
<rect x="113.15" y="636.05" width="17.50" height="7.50" rx="3.20" fill="#000000" filter="url(#b2)"/>
<rect x="132.05" y="636.05" width="17.50" height="7.50" rx="3.20" fill="#000000" filter="url(#b2)"/>
<rect x="150.20" y="634.00" width="19.00" height="13.00" rx="5.20" fill="#000000" filter="url(#b2)"/>
<rect x="169.85" y="636.05" width="17.50" height="7.50" rx="3.20" fill="#000000" filter="url(#b2)"/>
<rect x="35.2" y="630.8" width="155.7" height="20.5" fill="none" stroke="#151515" stroke-width="1.5"/>
<rect x="35.2" y="654.3" width="155.7" height="20.300000000000068" fill="#f0f0f0"/>
<rect x="37.55" y="661.50" width="17.50" height="5.80" rx="2.90" fill="#000000" filter="url(#b1)"/>
<rect x="56.45" y="661.50" width="17.50" height="5.80" rx="2.90" fill="#000000" filter="url(#b1)"/>
<rect x="75.35" y="661.50" width="17.50" height="5.80" rx="2.90" fill="#000000" filter="url(#b1)"/>
<rect x="94.25" y="661.50" width="17.50" height="5.80" rx="2.90" fill="#000000" filter="url(#b1)"/>
<rect x="113.15" y="661.50" width="17.50" height="5.80" rx="2.90" fill="#000000" filter="url(#b1)"/>
<rect x="132.05" y="661.50" width="17.50" height="5.80" rx="2.90" fill="#000000" filter="url(#b1)"/>
<rect x="150.95" y="661.50" width="17.50" height="5.80" rx="2.90" fill="#000000" filter="url(#b1)"/>
<rect x="169.85" y="661.50" width="17.50" height="5.80" rx="2.90" fill="#000000" filter="url(#b1)"/>
<rect x="35.2" y="654.3" width="155.7" height="20.300000000000068" fill="none" stroke="#151515" stroke-width="1.5"/>
<rect x="190.9" y="595.3" width="41.5" height="32.0" fill="#c8c8c8"/>
<rect x="193.00" y="601.00" width="16.00" height="2.80" rx="1.40" fill="#4e4e4e" filter="url(#b1)"/>
<rect x="214.20" y="601.00" width="16.00" height="2.80" rx="1.40" fill="#757575" filter="url(#b1)"/>
<rect x="193.50" y="615.70" width="15.00" height="2.80" rx="1.40" fill="#888888" filter="url(#b1)"/>
<rect x="190.9" y="595.3" width="41.5" height="32.0" fill="none" stroke="#151515" stroke-width="1.5"/>
<rect x="190.9" y="630.8" width="41.5" height="20.5" fill="#ededed"/>
<rect x="192.50" y="637.30" width="17.00" height="7.00" rx="3.20" fill="#2a2a2a" filter="url(#b2)"/>
<rect x="213.70" y="637.30" width="17.00" height="7.00" rx="3.20" fill="#343434" filter="url(#b2)"/>
<rect x="190.9" y="630.8" width="41.5" height="20.5" fill="none" stroke="#151515" stroke-width="1.5"/>
<rect x="190.9" y="654.3" width="41.5" height="20.300000000000068" fill="#f0f0f0"/>
<rect x="191.25" y="661.80" width="19.50" height="5.60" rx="2.80" fill="#000000" filter="url(#b1)"/>
<rect x="212.45" y="661.80" width="19.50" height="5.60" rx="2.80" fill="#000000" filter="url(#b1)"/>
<rect x="190.9" y="654.3" width="41.5" height="20.300000000000068" fill="none" stroke="#151515" stroke-width="1.5"/>
<text x="368.8" y="508.8" font-size="6.8" fill="#1a1a1a" stroke="#1a1a1a" stroke-width="0.18" textLength="10.1" lengthAdjust="spacing">BM</text>
<path d="M295.8,521 V514.6 H452.3 V521" fill="none" stroke="#383838" stroke-width="0.95"/>
<text x="326.1" y="526.3" font-size="7.0" fill="#c8385e" stroke="#c8385e" stroke-width="0.18" textLength="95.7" lengthAdjust="spacingAndGlyphs"><tspan font-style="italic">Mnt</tspan><tspan font-size="4.2" dy="-2.8" font-style="italic">fl/fl</tspan><tspan dy="2.8" font-style="italic"> CreERT2/MLL::AF9 2205</tspan></text>
<path d="M295.8,537.7 V531.2 H452.3 V537.7" fill="none" stroke="#383838" stroke-width="0.95"/>
<text x="320.3" y="544.1" font-size="7.0" fill="#1a1a1a" stroke="#1a1a1a" stroke-width="0.18" textLength="25.4" lengthAdjust="spacingAndGlyphs">+ vehicle</text>
<text x="395.8" y="543.6" font-size="7.0" fill="#1a1a1a" stroke="#1a1a1a" stroke-width="0.18" textLength="33.4" lengthAdjust="spacingAndGlyphs">+ Tamoxifen</text>
<path d="M295.8,555.5 V548.8 H371.0 V555.5" fill="none" stroke="#383838" stroke-width="0.95"/>
<path d="M372.2,555.5 V548.8 H452.3 V555.5" fill="none" stroke="#383838" stroke-width="0.95"/>
<path d="M454.1,556.4 V549.3 H494.7 V556.4" fill="none" stroke="#383838" stroke-width="0.95"/>
<text x="465.3" y="544.1" font-size="7.0" fill="#1a1a1a" stroke="#1a1a1a" stroke-width="0.18" textLength="17.6" lengthAdjust="spacing">AH15</text>
<text transform="translate(307.2,567.5) rotate(-90)" x="0" y="2.34" text-anchor="middle" font-size="6.5" fill="#c8385e" stroke="#c8385e" stroke-width="0.18" textLength="15.4" lengthAdjust="spacing">9837</text>
<text transform="translate(325.7,567.5) rotate(-90)" x="0" y="2.34" text-anchor="middle" font-size="6.5" fill="#c8385e" stroke="#c8385e" stroke-width="0.18" textLength="15.4" lengthAdjust="spacing">9838</text>
<text transform="translate(344.2,567.5) rotate(-90)" x="0" y="2.34" text-anchor="middle" font-size="6.5" fill="#c8385e" stroke="#c8385e" stroke-width="0.18" textLength="15.4" lengthAdjust="spacing">9839</text>
<text transform="translate(363.1,567.5) rotate(-90)" x="0" y="2.34" text-anchor="middle" font-size="6.5" fill="#c8385e" stroke="#c8385e" stroke-width="0.18" textLength="15.4" lengthAdjust="spacing">9840</text>
<text transform="translate(381.5,567.5) rotate(-90)" x="0" y="2.34" text-anchor="middle" font-size="6.5" fill="#c8385e" stroke="#c8385e" stroke-width="0.18" textLength="15.4" lengthAdjust="spacing">9841</text>
<text transform="translate(400,567.5) rotate(-90)" x="0" y="2.34" text-anchor="middle" font-size="6.5" fill="#c8385e" stroke="#c8385e" stroke-width="0.18" textLength="15.4" lengthAdjust="spacing">9842</text>
<text transform="translate(418.9,567.5) rotate(-90)" x="0" y="2.34" text-anchor="middle" font-size="6.5" fill="#c8385e" stroke="#c8385e" stroke-width="0.18" textLength="15.4" lengthAdjust="spacing">9843</text>
<text transform="translate(437.4,567.5) rotate(-90)" x="0" y="2.34" text-anchor="middle" font-size="6.5" fill="#c8385e" stroke="#c8385e" stroke-width="0.18" textLength="15.4" lengthAdjust="spacing">9844</text>
<text x="474" y="565.8" font-size="6.8" fill="#1a1a1a" stroke="#1a1a1a" stroke-width="0.18" font-style="italic" textLength="14.8" lengthAdjust="spacing">MNT</text>
<text x="457.6" y="574" font-size="6.8" fill="#1a1a1a" stroke="#1a1a1a" stroke-width="0.18" textLength="10.1" lengthAdjust="spacing">WT</text>
<text x="476.4" y="574" font-size="6.8" fill="#1a1a1a" stroke="#1a1a1a" stroke-width="0.18" textLength="9.3" lengthAdjust="spacingAndGlyphs">KO</text>
<text x="290.5" y="600.5" font-size="6" fill="#1a1a1a" stroke="#1a1a1a" stroke-width="0.18" text-anchor="middle">*</text>
<text x="272.4" y="612.1" font-size="6.8" fill="#1a1a1a" stroke="#1a1a1a" stroke-width="0.18" textLength="15.2" lengthAdjust="spacing">MNT</text>
<path d="M288.3,607.1 L293.3,609.7 L288.3,612.3 z" fill="#1a1a1a"/>
<text x="272.6" y="640.9" font-size="6.8" fill="#1a1a1a" stroke="#1a1a1a" stroke-width="0.18" textLength="19.4" lengthAdjust="spacingAndGlyphs">c-MYC</text>
<text x="265.7" y="667.5" font-size="6.8" fill="#1a1a1a" stroke="#1a1a1a" stroke-width="0.18" textLength="25.8" lengthAdjust="spacing">β-ACTIN</text>
<text x="500.5" y="583.4" font-size="6.8" fill="#1a1a1a" stroke="#1a1a1a" stroke-width="0.18" textLength="11.1" lengthAdjust="spacingAndGlyphs">kDa</text>
<line x1="495.1" y1="592.3" x2="498.3" y2="592.3" stroke="#1a1a1a" stroke-width="0.9" />
<text x="501.5" y="594.7" font-size="6.8" fill="#1a1a1a" stroke="#1a1a1a" stroke-width="0.18" textLength="10.8" lengthAdjust="spacing">100</text>
<line x1="495.1" y1="609.6" x2="498.3" y2="609.6" stroke="#1a1a1a" stroke-width="0.9" />
<text x="501.5" y="612.0" font-size="6.8" fill="#1a1a1a" stroke="#1a1a1a" stroke-width="0.18" textLength="7.6" lengthAdjust="spacing">75</text>
<line x1="495.1" y1="646" x2="498.3" y2="646" stroke="#1a1a1a" stroke-width="0.9" />
<text x="501.5" y="648.4" font-size="6.8" fill="#1a1a1a" stroke="#1a1a1a" stroke-width="0.18" textLength="7.6" lengthAdjust="spacing">50</text>
<line x1="495.1" y1="656.8" x2="498.3" y2="656.8" stroke="#1a1a1a" stroke-width="0.9" />
<text x="501.5" y="659.2" font-size="6.8" fill="#1a1a1a" stroke="#1a1a1a" stroke-width="0.18" textLength="7.6" lengthAdjust="spacing">50</text>
<linearGradient id="bgC2" x1="0" y1="0" x2="1" y2="0"><stop offset="0" stop-color="#bababa"/><stop offset="0.45" stop-color="#c0c0c0"/><stop offset="0.6" stop-color="#cccccc"/><stop offset="1" stop-color="#d0d0d0"/></linearGradient>
<linearGradient id="bgC2v" x1="0" y1="0" x2="0" y2="1"><stop offset="0" stop-color="#000" stop-opacity="0.12"/><stop offset="0.3" stop-color="#000" stop-opacity="0.02"/><stop offset="0.5" stop-color="#000" stop-opacity="0"/><stop offset="1" stop-color="#fff" stop-opacity="0.1"/></linearGradient>
<rect x="295" y="578.6" width="157.3" height="37.39999999999998" fill="url(#bgC2)"/>
<rect x="299.00" y="593.10" width="15.00" height="3.20" rx="1.60" fill="#131313" filter="url(#b1)"/>
<rect x="317.80" y="593.10" width="15.00" height="3.20" rx="1.60" fill="#131313" filter="url(#b1)"/>
<rect x="336.70" y="593.10" width="15.00" height="3.20" rx="1.60" fill="#171717" filter="url(#b1)"/>
<rect x="355.50" y="593.10" width="15.00" height="3.20" rx="1.60" fill="#131313" filter="url(#b1)"/>
<rect x="374.40" y="591.80" width="15.00" height="2.60" rx="1.30" fill="#494949" filter="url(#b1)"/>
<rect x="393.50" y="591.20" width="15.00" height="2.60" rx="1.30" fill="#494949" filter="url(#b1)"/>
<rect x="412.80" y="589.50" width="15.00" height="2.60" rx="1.30" fill="#494949" filter="url(#b1)"/>
<rect x="433.00" y="586.60" width="15.00" height="2.60" rx="1.30" fill="#565656" filter="url(#b1)"/>
<rect x="298.50" y="607.40" width="16.00" height="4.60" rx="2.30" fill="#000000" filter="url(#b1)"/>
<rect x="317.55" y="607.60" width="15.50" height="4.20" rx="2.10" fill="#060606" filter="url(#b1)"/>
<rect x="336.45" y="607.60" width="15.50" height="4.20" rx="2.10" fill="#060606" filter="url(#b1)"/>
<rect x="355.00" y="607.20" width="16.00" height="5.00" rx="2.50" fill="#000000" filter="url(#b1)"/>
<rect x="295" y="578.6" width="157.3" height="37.39999999999998" fill="none" stroke="#151515" stroke-width="1.5"/>
<rect x="295" y="578.6" width="157.3" height="37.4" fill="url(#bgC2v)"/>
<rect x="295" y="619.2" width="157.3" height="28.59999999999991" fill="#efefef"/>
<rect x="297.75" y="632.15" width="17.50" height="10.50" rx="4.20" fill="#000000" filter="url(#b2)"/>
<rect x="316.55" y="632.15" width="17.50" height="10.50" rx="4.20" fill="#000000" filter="url(#b2)"/>
<rect x="335.70" y="632.65" width="17.00" height="9.50" rx="3.80" fill="#000000" filter="url(#b2)"/>
<rect x="354.00" y="631.15" width="18.00" height="12.50" rx="5.00" fill="#000000" filter="url(#b2)"/>
<rect x="393.50" y="633.65" width="15.00" height="6.50" rx="3.20" fill="#434343" filter="url(#b2)"/>
<rect x="412.55" y="630.05" width="15.50" height="8.50" rx="3.40" fill="#2b2b2b" filter="url(#b2)"/>
<rect x="434.00" y="633.50" width="13.00" height="5.00" rx="2.50" fill="#d7d7d7" filter="url(#b2)"/>
<rect x="295" y="619.2" width="157.3" height="28.59999999999991" fill="none" stroke="#151515" stroke-width="1.5"/>
<rect x="295" y="650.8" width="157.3" height="23.90000000000009" fill="#f3f3f3"/>
<rect x="297.50" y="662.40" width="18.00" height="5.40" rx="2.70" fill="#000000" filter="url(#b1)"/>
<rect x="316.30" y="662.40" width="18.00" height="5.40" rx="2.70" fill="#000000" filter="url(#b1)"/>
<rect x="335.20" y="662.40" width="18.00" height="5.40" rx="2.70" fill="#000000" filter="url(#b1)"/>
<rect x="354.00" y="662.40" width="18.00" height="5.40" rx="2.70" fill="#000000" filter="url(#b1)"/>
<rect x="373.65" y="662.70" width="16.50" height="4.60" rx="2.30" fill="#000000" filter="url(#b1)"/>
<rect x="393.00" y="661.90" width="16.00" height="4.60" rx="2.30" fill="#000000" filter="url(#b1)"/>
<rect x="412.05" y="660.10" width="16.50" height="4.80" rx="2.40" fill="#000000" filter="url(#b1)"/>
<rect x="431.75" y="657.40" width="17.50" height="5.00" rx="2.50" fill="#000000" filter="url(#b1)"/>
<rect x="295" y="650.8" width="157.3" height="23.90000000000009" fill="none" stroke="#151515" stroke-width="1.5"/>
<rect x="452.3" y="578.6" width="42.80000000000001" height="37.39999999999998" fill="#c6c6c6"/>
<rect x="456.25" y="581.70" width="15.50" height="3.00" rx="1.50" fill="#1e1e1e" filter="url(#b1)"/>
<rect x="477.05" y="581.10" width="15.50" height="3.00" rx="1.50" fill="#282828" filter="url(#b1)"/>
<rect x="456.50" y="595.10" width="15.00" height="3.80" rx="1.90" fill="#282828" filter="url(#b1)"/>
<rect x="452.3" y="578.6" width="42.80000000000001" height="37.39999999999998" fill="none" stroke="#151515" stroke-width="1.5"/>
<rect x="452.3" y="619.2" width="42.80000000000001" height="28.59999999999991" fill="#efefef"/>
<rect x="456.00" y="624.20" width="16.00" height="10.00" rx="4.00" fill="#000000" filter="url(#b2)"/>
<rect x="477.30" y="625.10" width="15.00" height="9.00" rx="3.60" fill="#2b2b2b" filter="url(#b2)"/>
<rect x="452.3" y="619.2" width="42.80000000000001" height="28.59999999999991" fill="none" stroke="#151515" stroke-width="1.5"/>
<rect x="455" y="630" width="16" height="9" fill="#555" opacity="0.35" filter="url(#b2)"/>
<rect x="474.5" y="630" width="15" height="8" fill="#666" opacity="0.3" filter="url(#b2)"/>
<rect x="452.3" y="650.8" width="42.80000000000001" height="23.90000000000009" fill="#f3f3f3"/>
<rect x="455.00" y="655.00" width="18.00" height="5.20" rx="2.60" fill="#000000" filter="url(#b1)"/>
<rect x="475.80" y="655.00" width="18.00" height="5.20" rx="2.60" fill="#000000" filter="url(#b1)"/>
<rect x="452.3" y="650.8" width="42.80000000000001" height="23.90000000000009" fill="none" stroke="#151515" stroke-width="1.5"/>
<rect x="0.5" y="0.5" width="519" height="681" fill="none" stroke="#4a4a4a" stroke-width="1.1"/>
</svg></body></html>
